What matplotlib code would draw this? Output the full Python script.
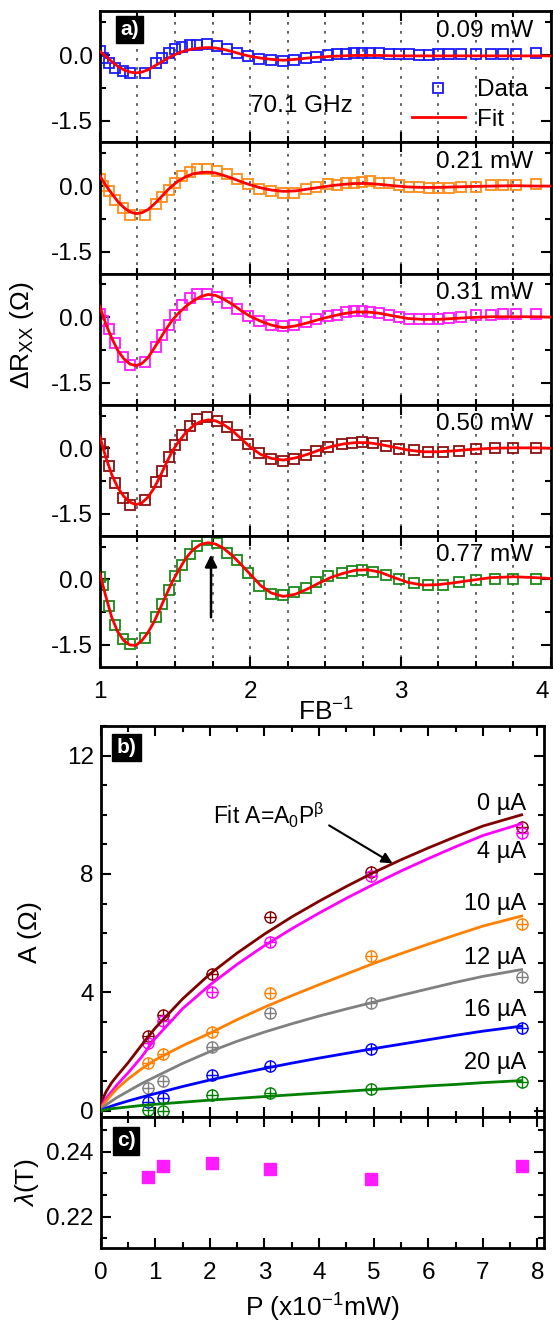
import matplotlib
matplotlib.use('Agg')
import matplotlib.pyplot as plt
import matplotlib.transforms as mtrans
from matplotlib.ticker import MultipleLocator, FixedLocator
from matplotlib.lines import Line2D

plt.rcParams['font.family'] = ['Liberation Sans', 'DejaVu Sans']
plt.rcParams['mathtext.fontset'] = 'custom'
plt.rcParams['mathtext.rm'] = 'Liberation Sans'
plt.rcParams['mathtext.it'] = 'Liberation Sans:italic'
plt.rcParams['mathtext.bf'] = 'Liberation Sans:bold'
plt.rcParams['axes.unicode_minus'] = False

# ---- panel a: oscillations vs F/B ----
x_left = [1.00, 1.025, 1.06, 1.105, 1.155, 1.20, 1.30, 1.375, 1.415, 1.46,
          1.50, 1.545, 1.60, 1.645, 1.715, 1.78, 1.845, 1.915, 1.985, 2.06,
          2.14, 2.22, 2.29, 2.37, 2.44, 2.52]
x_right_a = [2.58, 2.635, 2.69, 2.745, 2.80, 2.855, 2.92, 2.99, 3.055, 3.12,
             3.19, 3.25, 3.32, 3.40, 3.50, 3.60, 3.68, 3.77, 3.90]
x_right_b = [2.61, 2.68, 2.745, 2.82, 2.90, 2.99, 3.09, 3.18, 3.28, 3.39,
             3.50, 3.63, 3.75, 3.90]
xa = x_left + x_right_a
xb = x_left + x_right_b

y_009 = [0.09, -0.06, -0.18, -0.29, -0.37, -0.41, -0.41, -0.18, -0.06, 0.05,
         0.13, 0.18, 0.23, 0.23, 0.25, 0.21, 0.13, 0.05, -0.02, -0.10,
         -0.12, -0.14, -0.12, -0.08, -0.04, -0.01,
         0.02, 0.03, 0.04, 0.04, 0.04, 0.04, 0.03, 0.02, 0.02, 0.01,
         0.01, 0.02, 0.02, 0.02, 0.02, 0.03, 0.03, 0.03, 0.04]
y_021 = [0.16, 0.00, -0.11, -0.32, -0.49, -0.65, -0.65, -0.42, -0.26, -0.09,
         0.08, 0.24, 0.32, 0.38, 0.39, 0.35, 0.28, 0.16, 0.05, -0.07,
         -0.12, -0.15, -0.15, -0.07, -0.03, 0.05,
         0.03, 0.06, 0.08, 0.09, 0.11, 0.08, 0.06, 0.03, -0.01, -0.03,
         -0.04, -0.05, -0.04, -0.03, -0.01, 0.02, 0.03, 0.03, 0.04]
y_031 = [0.08, -0.08, -0.28, -0.59, -0.90, -1.09, -1.02, -0.69, -0.40, -0.17,
         0.06, 0.29, 0.45, 0.52, 0.54, 0.46, 0.33, 0.18, 0.02, -0.09,
         -0.18, -0.21, -0.18, -0.11, -0.05, 0.02,
         0.04, 0.11, 0.14, 0.15, 0.13, 0.10, 0.06, 0.00, -0.04, -0.05,
         -0.05, -0.05, -0.02, 0.00, 0.04, 0.06, 0.07, 0.07, 0.07]
y_050 = [0.09, -0.08, -0.41, -0.79, -1.14, -1.29, -1.18, -0.78, -0.52, -0.19,
         0.07, 0.30, 0.52, 0.67, 0.71, 0.63, 0.48, 0.30, 0.09, -0.10,
         -0.24, -0.29, -0.25, -0.16, -0.06, 0.03,
         0.09, 0.12, 0.14, 0.12, 0.05, -0.01, -0.05, -0.08, -0.08, -0.06,
         -0.01, 0.01, 0.01, 0.01]
y_077 = [0.05, -0.12, -0.60, -1.04, -1.37, -1.48, -1.33, -0.87, -0.56, -0.24,
         0.07, 0.32, 0.59, 0.76, 0.90, 0.84, 0.61, 0.44, 0.15, -0.14,
         -0.33, -0.35, -0.29, -0.19, -0.05, 0.08,
         0.14, 0.20, 0.21, 0.18, 0.10, 0.00, -0.09, -0.12, -0.12, -0.06,
         -0.02, 0.02, 0.02, 0.00]

fit_x = [1.00, 1.04, 1.08, 1.12, 1.16, 1.20, 1.24, 1.28, 1.32, 1.36,
         1.40, 1.44, 1.48, 1.52, 1.57, 1.62, 1.67, 1.72, 1.77, 1.82,
         1.88, 1.94, 2.00, 2.07, 2.14, 2.22, 2.30, 2.38, 2.46, 2.54,
         2.62, 2.70, 2.78, 2.86, 2.95, 3.05, 3.15, 3.25, 3.35, 3.45,
         3.60, 3.75, 3.90, 4.00]
fit_009 = [0.09, -0.03, -0.15, -0.26, -0.34, -0.39, -0.41, -0.39, -0.34, -0.26,
           -0.18, -0.10, -0.02, 0.04, 0.10, 0.14, 0.16, 0.17, 0.16, 0.13,
           0.08, 0.02, -0.03, -0.07, -0.10, -0.12, -0.10, -0.07, -0.05, -0.03,
           -0.02, -0.01, -0.01, -0.01, -0.02, -0.02, -0.02, -0.02, -0.02, -0.02,
           -0.02, -0.02, -0.02, -0.02]
fit_021 = [0.24, 0.02, -0.17, -0.35, -0.49, -0.59, -0.63, -0.61, -0.54, -0.42,
           -0.28, -0.13, 0.00, 0.11, 0.21, 0.28, 0.31, 0.32, 0.30, 0.25,
           0.18, 0.10, 0.03, -0.04, -0.09, -0.12, -0.11, -0.07, -0.03, 0.01,
           0.04, 0.06, 0.06, 0.04, 0.01, -0.02, -0.03, -0.03, -0.02, -0.01,
           0.00, 0.01, 0.00, 0.00]
fit_031 = [0.25, -0.15, -0.48, -0.76, -0.95, -1.07, -1.11, -1.06, -0.93, -0.72,
           -0.50, -0.28, -0.08, 0.08, 0.24, 0.37, 0.47, 0.52, 0.50, 0.42,
           0.30, 0.15, 0.02, -0.09, -0.18, -0.24, -0.20, -0.13, -0.05, 0.02,
           0.08, 0.12, 0.12, 0.09, 0.03, -0.03, -0.05, -0.05, -0.03, -0.01,
           0.01, 0.01, 0.01, 0.00]
fit_050 = [0.28, -0.20, -0.60, -0.90, -1.10, -1.23, -1.29, -1.25, -1.12, -0.92,
           -0.65, -0.36, -0.08, 0.13, 0.35, 0.51, 0.61, 0.65, 0.63, 0.55,
           0.41, 0.22, 0.03, -0.14, -0.23, -0.27, -0.22, -0.14, -0.04, 0.04,
           0.10, 0.13, 0.13, 0.09, 0.03, -0.04, -0.08, -0.08, -0.06, -0.03,
           0.00, 0.01, 0.01, 0.00]
fit_077 = [0.15, -0.38, -0.87, -1.20, -1.40, -1.50, -1.51, -1.40, -1.22, -0.98,
           -0.68, -0.37, -0.07, 0.18, 0.47, 0.68, 0.80, 0.84, 0.81, 0.72,
           0.55, 0.34, 0.12, -0.14, -0.31, -0.39, -0.34, -0.22, -0.08, 0.05,
           0.14, 0.21, 0.22, 0.17, 0.05, -0.07, -0.13, -0.12, -0.08, -0.03,
           0.04, 0.06, 0.04, 0.02]

power_labels = ['0.09 mW', '0.21 mW', '0.31 mW', '0.50 mW', '0.77 mW']
sq_colors = ['#1a1aff', '#ff8c1a', '#ff1aff', '#8b1010', '#1a8a1a']

# ---- panel b: amplitude vs power ----
p_data = [0.87, 1.14, 2.04, 3.10, 4.95, 7.71]
a_0uA = [2.52, 3.23, 4.61, 6.56, 8.08, 9.60]
a_4uA = [2.28, 3.04, 4.00, 5.70, 7.94, 9.37]
a_10uA = [1.61, 1.92, 2.67, 3.97, 5.22, 6.30]
a_12uA = [0.76, 0.99, 2.17, 3.31, 3.63, 4.52]
a_16uA = [0.31, 0.43, 1.21, 1.52, 2.08, 2.78]
a_20uA = [0.03, 0.00, 0.54, 0.60, 0.74, 0.98]

p_fit = [0.0, 0.02, 0.05, 0.1, 0.2, 0.3, 0.5, 0.75, 1.0, 1.5,
         2.0, 2.5, 3.0, 3.5, 4.0, 4.5, 5.0, 5.5, 6.0, 6.5, 7.0, 7.71]
f_0uA = [0.0, 0.28, 0.45, 0.65, 0.95, 1.18, 1.62, 2.22, 2.80, 3.78,
         4.62, 5.33, 5.97, 6.55, 7.08, 7.58, 8.05, 8.48, 8.88, 9.26, 9.62, 10.0]
f_4uA = [0.0, 0.15, 0.27, 0.42, 0.65, 0.88, 1.28, 1.82, 2.45, 3.45,
         4.25, 4.95, 5.58, 6.15, 6.68, 7.18, 7.65, 8.10, 8.52, 8.92, 9.30, 9.70]
f_10uA = [0.0, 0.10, 0.20, 0.33, 0.55, 0.75, 1.07, 1.42, 1.72, 2.20,
          2.62, 3.08, 3.50, 3.89, 4.26, 4.62, 4.98, 5.31, 5.63, 5.94, 6.24, 6.58]
f_12uA = [0.0, 0.06, 0.12, 0.20, 0.33, 0.45, 0.66, 0.92, 1.15, 1.60,
          2.00, 2.35, 2.66, 2.94, 3.20, 3.44, 3.67, 3.90, 4.12, 4.34, 4.54, 4.77]
f_16uA = [0.0, 0.02, 0.05, 0.09, 0.16, 0.22, 0.33, 0.46, 0.58, 0.82,
          1.04, 1.24, 1.43, 1.61, 1.78, 1.94, 2.10, 2.25, 2.40, 2.55, 2.69, 2.86]
f_20uA = [0.0, 0.01, 0.02, 0.04, 0.07, 0.09, 0.13, 0.18, 0.22, 0.29,
          0.36, 0.42, 0.48, 0.54, 0.60, 0.66, 0.72, 0.78, 0.84, 0.89, 0.95, 1.02]

cur_labels = ['0 µA', '4 µA', '10 µA', '12 µA', '16 µA', '20 µA']
cur_label_y = [10.37, 8.73, 7.0, 5.17, 3.4, 1.6]
cur_colors = ['#800000', '#ff00ff', '#ff8000', '#808080', '#0000ff', '#008000']

# ---- panel c: lambda vs power ----
lam = [0.2323, 0.2357, 0.2366, 0.2346, 0.2315, 0.2356]

W, H = 553, 1325
fig = plt.figure(figsize=(W / 100, H / 100), dpi=100)


def px_box(l, t, r, b):
    return [l / W, 1 - b / H, (r - l) / W, (b - t) / H]


def style(ax):
    ax.tick_params(which='both', direction='in', top=True, right=True,
                   labelsize=17.5, width=1.5, pad=5)
    ax.tick_params(which='major', length=7)
    ax.tick_params(which='minor', length=4)
    for s in ax.spines.values():
        s.set_linewidth(2)


xs = [xa, xa, xa, xb, xb]
ys = [y_009, y_021, y_031, y_050, y_077]
fits = [fit_009, fit_021, fit_031, fit_050, fit_077]
top0, ph = 11.3, 131.1
axes_a = []
for i in range(5):
    t = top0 + i * ph
    ax = fig.add_axes(px_box(99.7, t, 551, t + ph))
    ax.plot(xs[i], ys[i], 's', mfc='none', mec=sq_colors[i], ms=7.8, mew=1.3, zorder=2)
    ax.plot(fit_x, fits[i], '-', color='#ff0000', lw=2.0, zorder=3)
    ax.set_xlim(1, 4)
    ax.set_ylim(-2.0, 1.0)
    for g in [1.25, 1.5, 1.75, 2.0, 2.25, 2.5, 2.75, 3.0, 3.25, 3.5, 3.75]:
        ax.axvline(g, color='#555555', lw=1.3, ls=(0, (1.5, 3.5)), zorder=1)
    ax.xaxis.set_major_locator(FixedLocator([1, 2, 3, 4]))
    ax.xaxis.set_minor_locator(MultipleLocator(0.25))
    ax.yaxis.set_major_locator(FixedLocator([-1.5, 0.0]))
    ax.yaxis.set_minor_locator(FixedLocator([-0.75, 0.75]))
    ax.set_yticklabels(['-1.5', '0.0'])
    style(ax)
    if i < 4:
        ax.tick_params(labelbottom=False)
    ax.text(3.88, 0.55, power_labels[i], ha='right', va='center', fontsize=17.5)
    axes_a.append(ax)

ax1 = axes_a[0]
ax1.text(2.34, -1.17, '70.1 GHz', ha='center', va='center', fontsize=17.5)
handles = [Line2D([], [], marker='s', ls='none', mfc='none', mec=sq_colors[0], ms=7.8, mew=1.3),
           Line2D([], [], color='#ff0000', lw=2.0)]
ax1.legend(handles, ['Data', 'Fit'], loc='upper left', bbox_to_anchor=(0.691, 0.48),
           frameon=False, fontsize=17.5, borderpad=0, borderaxespad=0,
           handlelength=2.2, handletextpad=0.5, labelspacing=0.3)

ax5 = axes_a[4]
ax5.annotate('', xy=(1.74, 0.63), xytext=(1.74, -0.93),
             arrowprops=dict(arrowstyle='-|>', color='black', lw=1.8, mutation_scale=18))
ax5.set_xticklabels(['1', '2', '3', '4'])
ax5.tick_params(axis='x', pad=10)
# keep the last tick label inside the canvas
last = ax5.get_xticklabels()[-1]
last.set_transform(last.get_transform() + mtrans.ScaledTranslation(-6 / 72, 0, fig.dpi_scale_trans))

fig.text(22 / W, 1 - 335 / H, r'$\Delta$R$_{\rm XX}$ ($\Omega$)', rotation=90,
         ha='center', va='center', fontsize=19)
fig.text(326 / W, 1 - 712 / H, r'FB$^{-1}$', ha='center', va='center', fontsize=19)

# panel b
axb = fig.add_axes(px_box(100.7, 726, 544, 1116.7))
series = [a_0uA, a_4uA, a_10uA, a_12uA, a_16uA, a_20uA]
fseries = [f_0uA, f_4uA, f_10uA, f_12uA, f_16uA, f_20uA]
for a_vals, f_vals, c, lab, ly in zip(series, fseries, cur_colors, cur_labels, cur_label_y):
    axb.plot(p_data, a_vals, 'o', mfc='none', mec=c, ms=8, mew=1.0, zorder=2)
    axb.plot(p_data, a_vals, '+', color=c, ms=8, mew=1.0, zorder=2)
    axb.plot(p_fit, f_vals, '-', color=c, lw=2.0, zorder=3)
    axb.text(7.79, ly, lab, ha='right', va='center', fontsize=17)
axb.set_xlim(0, 8.12)
axb.set_ylim(-0.2, 13.0)
axb.xaxis.set_major_locator(MultipleLocator(1))
axb.xaxis.set_minor_locator(MultipleLocator(0.5))
axb.yaxis.set_major_locator(MultipleLocator(4))
axb.yaxis.set_minor_locator(MultipleLocator(1))
style(axb)
axb.tick_params(labelbottom=False)
axb.text(2.05, 9.97, r'Fit A=A$_0$P$^{\mathrm{\beta}}$', ha='left', va='center', fontsize=16.5)
axb.annotate('', xy=(5.39, 8.31), xytext=(4.14, 9.69),
             arrowprops=dict(arrowstyle='-|>', color='black', lw=1.5, mutation_scale=16))
fig.text(30 / W, 1 - 933 / H, r'A ($\Omega$)', rotation=90, ha='center', va='center', fontsize=19)

# panel c
axc = fig.add_axes(px_box(100.7, 1116.7, 544, 1248.3))
axc.plot(p_data, lam, 's', color='#ff1aff', ms=8.5, mec='#ff1aff')
axc.set_xlim(0, 8.12)
axc.set_ylim(0.2103, 0.2508)
axc.xaxis.set_major_locator(MultipleLocator(1))
axc.xaxis.set_minor_locator(MultipleLocator(0.5))
axc.yaxis.set_major_locator(FixedLocator([0.22, 0.24]))
axc.yaxis.set_minor_locator(MultipleLocator(0.02 / 3))
axc.set_yticklabels(['0.22', '0.24'])
style(axc)
axc.tick_params(axis='x', pad=10)
fig.text(27 / W, 1 - 1183 / H, r'$\lambda$(T)', rotation=90, ha='center', va='center', fontsize=19)
fig.text(322 / W, 1 - 1308 / H, r'P (x10$^{-1}$mW)', ha='center', va='center', fontsize=19)

# panel tags
for lab, cx, cy in [('a)', 129.5, 29.5), ('b)', 126.5, 747.5), ('c)', 126, 1141)]:
    fig.text(cx / W, 1 - cy / H, lab, ha='center', va='center', fontsize=15,
             fontweight='bold', color='white',
             bbox=dict(boxstyle='square,pad=0.2', fc='black', ec='black'))

fig.savefig('out.png', dpi=100)
